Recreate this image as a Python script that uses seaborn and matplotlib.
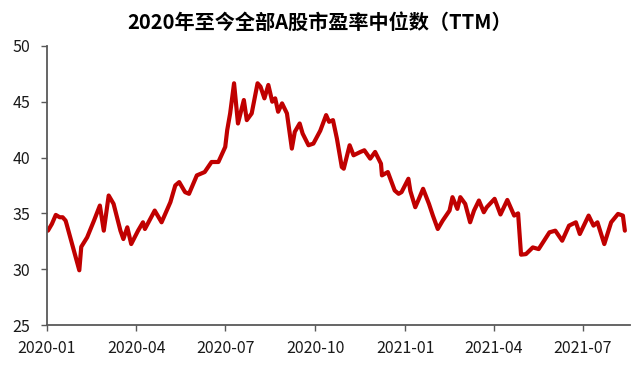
import matplotlib
matplotlib.use("Agg")
import matplotlib.pyplot as plt
import seaborn as sns
import pandas as pd

dates = [
    "2020-01-02", "2020-01-06", "2020-01-10", "2020-01-14", "2020-01-17", "2020-01-20", "2020-01-21",
    "2020-02-03", "2020-02-05", "2020-02-11", "2020-02-18", "2020-02-24", "2020-02-28",
    "2020-03-04", "2020-03-09", "2020-03-16", "2020-03-19", "2020-03-23", "2020-03-27",
    "2020-04-03", "2020-04-08", "2020-04-10", "2020-04-20", "2020-04-27",
    "2020-05-06", "2020-05-11", "2020-05-15", "2020-05-21", "2020-05-25",
    "2020-06-02", "2020-06-10", "2020-06-17", "2020-06-24",
    "2020-07-01", "2020-07-03", "2020-07-06", "2020-07-10", "2020-07-14", "2020-07-20", "2020-07-23", "2020-07-28",
    "2020-08-03", "2020-08-06", "2020-08-10", "2020-08-14", "2020-08-18", "2020-08-21", "2020-08-24", "2020-08-28",
    "2020-09-02", "2020-09-07", "2020-09-10", "2020-09-15", "2020-09-18", "2020-09-24", "2020-09-29",
    "2020-10-06", "2020-10-12", "2020-10-15", "2020-10-19", "2020-10-23", "2020-10-28", "2020-10-30",
    "2020-11-05", "2020-11-09", "2020-11-16", "2020-11-20", "2020-11-26",
    "2020-12-01", "2020-12-07", "2020-12-08", "2020-12-14", "2020-12-21", "2020-12-25", "2020-12-28",
    "2021-01-04", "2021-01-06", "2021-01-11", "2021-01-14", "2021-01-19", "2021-01-25", "2021-01-29",
    "2021-02-03", "2021-02-08", "2021-02-15", "2021-02-18", "2021-02-23", "2021-02-26",
    "2021-03-03", "2021-03-08", "2021-03-12", "2021-03-17", "2021-03-22", "2021-03-25",
    "2021-04-02", "2021-04-08", "2021-04-15", "2021-04-22", "2021-04-26", "2021-04-29",
    "2021-05-04", "2021-05-11", "2021-05-17", "2021-05-28",
    "2021-06-03", "2021-06-10", "2021-06-17", "2021-06-24", "2021-06-28",
    "2021-07-07", "2021-07-12", "2021-07-16", "2021-07-23", "2021-07-30",
    "2021-08-06", "2021-08-11", "2021-08-13",
]

pe_median = [
    33.45, 34.05, 34.86, 34.65, 34.65, 34.35, 34.05,
    29.9, 32.0, 32.85, 34.35, 35.7, 33.45,
    36.6, 35.85, 33.45, 32.7, 33.75, 32.25,
    33.45, 34.2, 33.6, 35.25, 34.2,
    36.0, 37.5, 37.8, 36.9, 36.75,
    38.4, 38.7, 39.6, 39.6,
    40.95, 42.45, 43.95, 46.65, 43.05, 45.15, 43.35, 43.95,
    46.65, 46.35, 45.3, 46.5, 45.0, 45.3, 44.1, 44.85,
    43.95, 40.8, 42.3, 43.05, 42.15, 41.1, 41.25,
    42.4, 43.8, 43.2, 43.35, 41.7, 39.15, 39.0,
    41.1, 40.2, 40.5, 40.65, 39.9,
    40.5, 39.45, 38.4, 38.7, 37.05, 36.75, 36.9,
    38.1, 37.0, 35.55, 36.15, 37.2, 35.85, 34.8,
    33.6, 34.35, 35.25, 36.45, 35.4, 36.45,
    35.85, 34.2, 35.25, 36.15, 35.1, 35.55,
    36.3, 34.9, 36.2, 34.8, 35.0, 31.3,
    31.35, 31.95, 31.8, 33.3,
    33.45, 32.55, 33.9, 34.2, 33.15,
    34.8, 33.9, 34.2, 32.25, 34.2,
    34.95, 34.8, 33.45,
]

title = "2020年至今全部A股市盈率中位数（TTM）"
y_ticks = [25, 30, 35, 40, 45, 50]
x_ticks = ["2020-01", "2020-04", "2020-07", "2020-10", "2021-01", "2021-04", "2021-07"]

df = pd.DataFrame({"date": pd.to_datetime(dates), "pe": pe_median})

sns.set_style("white")
plt.rcParams["font.family"] = ["Noto Sans CJK SC", "DejaVu Sans"]

fig = plt.figure(figsize=(6.4, 3.7), dpi=100)
ax = fig.add_axes([0.0734, 0.1216, 0.9106, 0.7544])

sns.lineplot(data=df, x="date", y="pe", ax=ax, color="#C00000", linewidth=3.0)

ax.set_ylim(25, 50)
ax.set_yticks(y_ticks)
ax.set_xlim(pd.Timestamp("2020-01-02"), pd.Timestamp("2021-08-18"))
ax.set_xticks([pd.Timestamp(t + "-01") for t in x_ticks])
ax.set_xticklabels(x_ticks)
ax.set_xlabel("")
ax.set_ylabel("")

for side in ["top", "right"]:
    ax.spines[side].set_visible(False)
for side in ["left", "bottom"]:
    ax.spines[side].set_color("#595959")
    ax.spines[side].set_linewidth(1.3)

ax.tick_params(axis="both", direction="out", length=4, width=1, color="#595959",
               labelsize=11.5, labelcolor="#1a1a1a", left=True, bottom=True)
ax.tick_params(axis="x", pad=7)
ax.tick_params(axis="y", pad=8)
ax.grid(False)

fig.text(0.5, 0.94, title, ha="center", va="center", fontsize=14.5, fontweight="bold", color="black")

fig.savefig("out.png", dpi=100)
